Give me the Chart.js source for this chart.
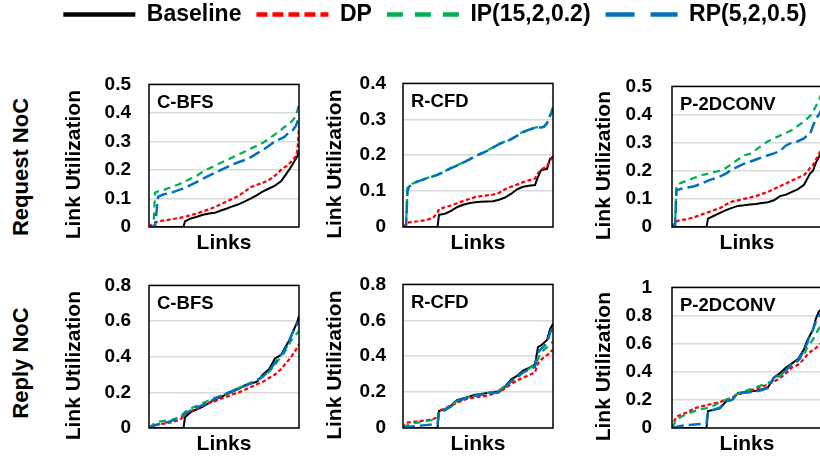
<!DOCTYPE html>
<html>
<head>
<meta charset="utf-8">
<script src="https://cdn.jsdelivr.net/npm/chart.js@4.4.1/dist/chart.umd.min.js"></script>
<style>
    html, body { margin: 0; padding: 0; background: #fff; overflow: hidden; }
    #wrap { position: relative; width: 820px; height: 461px; overflow: hidden; }
    canvas { position: absolute; }
    .rowLabel {
        position: absolute;
        font: bold 22px "Liberation Sans", Arial, sans-serif;
        color: #000;
        white-space: nowrap;
        transform: translate(-50%, -50%) rotate(-90deg);
    }
</style>
</head>
<body>
<div id="wrap">
    <canvas id="legend" width="780" height="120" style="left:45px; top:-12px;"></canvas>
    <div class="rowLabel" style="left:21px; top:167px;">Request NoC</div>
    <div class="rowLabel" style="left:21px; top:363px;">Reply NoC</div>
</div>
<script>
// --- данные (ось X = позиция линка в %, отсортировано) ---
const LINKS = [0, 2, 3, 4, 6, 10, 15, 20, 23, 24, 28, 32, 36, 40, 44, 48, 52, 56, 60, 64, 68, 72, 76, 80, 84, 88, 90, 92, 94, 96, 98, 99, 100];

const SERIES = ['Baseline', 'DP', 'IP(15,2,0.2)', 'RP(5,2,0.5)'];
const BENCHES = ['C-BFS', 'R-CFD', 'P-2DCONV'];
const REQ_YMAX = [0.5, 0.4, 0.5];
const REP_YMAX = [0.8, 0.8, 1];
const REQ_STEP = 0.1;
const REP_STEP = 0.2;

// Request NoC
const reqBfsBase = [0, 0, 0, 0, 0, 0, 0, 0, 0, 0.02, 0.03, 0.036, 0.043, 0.047, 0.05, 0.058, 0.065, 0.073, 0.08, 0.09, 0.1, 0.112, 0.125, 0.135, 0.145, 0.16, 0.175, 0.19, 0.205, 0.223, 0.24, 0.25, 0.27];
const reqBfsDp   = [0, 0.01, 0.013, 0.016, 0.019, 0.023, 0.027, 0.032, 0.035, 0.036, 0.042, 0.047, 0.055, 0.062, 0.07, 0.08, 0.09, 0.1, 0.11, 0.125, 0.14, 0.148, 0.155, 0.165, 0.18, 0.2, 0.208, 0.215, 0.225, 0.235, 0.25, 0.27, 0.35];
const reqBfsIp   = [0, 0, 0, 0.12, 0.125, 0.13, 0.14, 0.15, 0.157, 0.16, 0.17, 0.18, 0.195, 0.205, 0.215, 0.225, 0.235, 0.245, 0.255, 0.265, 0.275, 0.285, 0.295, 0.31, 0.325, 0.34, 0.35, 0.355, 0.365, 0.375, 0.39, 0.41, 0.435];
const reqBfsRp   = [0, 0, 0, 0, 0.106, 0.115, 0.12, 0.13, 0.135, 0.138, 0.148, 0.158, 0.17, 0.18, 0.19, 0.2, 0.21, 0.22, 0.228, 0.235, 0.245, 0.258, 0.27, 0.285, 0.3, 0.31, 0.315, 0.325, 0.335, 0.34, 0.355, 0.37, 0.39];

const reqCfdBase = [0, 0, 0, 0, 0, 0, 0, 0, 0, 0.034, 0.037, 0.045, 0.055, 0.062, 0.066, 0.069, 0.07, 0.071, 0.072, 0.076, 0.082, 0.092, 0.105, 0.112, 0.115, 0.117, 0.14, 0.158, 0.16, 0.162, 0.19, 0.193, 0.196];
const reqCfdDp   = [0, 0.008, 0.012, 0.013, 0.014, 0.016, 0.019, 0.025, 0.04, 0.05, 0.055, 0.06, 0.066, 0.072, 0.078, 0.083, 0.086, 0.088, 0.09, 0.095, 0.105, 0.112, 0.118, 0.125, 0.13, 0.135, 0.15, 0.16, 0.164, 0.17, 0.185, 0.19, 0.196];
const reqCfdIp   = [0, 0, 0.11, 0.113, 0.12, 0.128, 0.135, 0.142, 0.146, 0.148, 0.156, 0.165, 0.172, 0.18, 0.188, 0.198, 0.205, 0.212, 0.222, 0.232, 0.238, 0.245, 0.255, 0.265, 0.272, 0.277, 0.278, 0.278, 0.28, 0.29, 0.31, 0.32, 0.335];
const reqCfdRp   = [0, 0, 0.1, 0.112, 0.119, 0.127, 0.134, 0.141, 0.145, 0.147, 0.155, 0.164, 0.171, 0.179, 0.187, 0.197, 0.204, 0.212, 0.221, 0.231, 0.237, 0.244, 0.254, 0.264, 0.271, 0.276, 0.277, 0.277, 0.279, 0.289, 0.309, 0.32, 0.333];

const reqConvBase = [0, 0, 0, 0, 0, 0, 0, 0, 0, 0.03, 0.04, 0.05, 0.06, 0.068, 0.075, 0.077, 0.08, 0.082, 0.085, 0.088, 0.095, 0.11, 0.115, 0.125, 0.135, 0.15, 0.17, 0.19, 0.2, 0.23, 0.25, 0.26, 0.27];
const reqConvDp   = [0, 0.015, 0.02, 0.022, 0.025, 0.028, 0.035, 0.045, 0.05, 0.052, 0.06, 0.067, 0.08, 0.09, 0.095, 0.1, 0.105, 0.11, 0.118, 0.125, 0.135, 0.145, 0.155, 0.165, 0.175, 0.185, 0.195, 0.21, 0.22, 0.24, 0.26, 0.27, 0.285];
const reqConvIp   = [0, 0, 0.15, 0.152, 0.157, 0.165, 0.175, 0.185, 0.188, 0.19, 0.195, 0.2, 0.21, 0.225, 0.24, 0.255, 0.26, 0.275, 0.29, 0.305, 0.315, 0.325, 0.335, 0.345, 0.36, 0.375, 0.385, 0.395, 0.41, 0.43, 0.45, 0.465, 0.48];
const reqConvRp   = [0, 0, 0.13, 0.132, 0.136, 0.14, 0.145, 0.155, 0.162, 0.165, 0.172, 0.18, 0.19, 0.205, 0.215, 0.225, 0.232, 0.24, 0.248, 0.255, 0.262, 0.27, 0.29, 0.3, 0.305, 0.315, 0.325, 0.33, 0.36, 0.385, 0.4, 0.41, 0.42];

// Reply NoC
const repBfsBase = [0, 0, 0, 0, 0, 0, 0, 0, 0, 0.06, 0.09, 0.105, 0.12, 0.14, 0.16, 0.175, 0.19, 0.205, 0.22, 0.24, 0.25, 0.26, 0.3, 0.33, 0.39, 0.41, 0.44, 0.47, 0.5, 0.54, 0.58, 0.6, 0.63];
const repBfsDp   = [0, 0.01, 0.014, 0.017, 0.02, 0.025, 0.032, 0.045, 0.06, 0.075, 0.095, 0.11, 0.125, 0.14, 0.15, 0.165, 0.175, 0.19, 0.2, 0.215, 0.23, 0.245, 0.26, 0.28, 0.3, 0.33, 0.35, 0.37, 0.39, 0.415, 0.44, 0.455, 0.47];
const repBfsIp   = [0, 0.015, 0.022, 0.028, 0.035, 0.04, 0.045, 0.06, 0.08, 0.09, 0.11, 0.125, 0.14, 0.155, 0.17, 0.18, 0.195, 0.21, 0.225, 0.24, 0.255, 0.27, 0.29, 0.315, 0.355, 0.4, 0.42, 0.45, 0.48, 0.505, 0.525, 0.535, 0.545];
const repBfsRp   = [0, 0.008, 0.012, 0.015, 0.02, 0.028, 0.04, 0.055, 0.07, 0.08, 0.1, 0.115, 0.13, 0.145, 0.165, 0.18, 0.195, 0.21, 0.225, 0.235, 0.25, 0.265, 0.29, 0.32, 0.365, 0.41, 0.43, 0.46, 0.5, 0.54, 0.57, 0.585, 0.6];

const repCfdBase = [0, 0, 0, 0, 0, 0, 0, 0, 0, 0.095, 0.105, 0.125, 0.155, 0.165, 0.175, 0.185, 0.19, 0.195, 0.2, 0.205, 0.23, 0.27, 0.29, 0.32, 0.335, 0.355, 0.45, 0.46, 0.475, 0.49, 0.55, 0.565, 0.58];
const repCfdDp   = [0, 0.025, 0.03, 0.032, 0.034, 0.037, 0.042, 0.05, 0.06, 0.095, 0.11, 0.125, 0.14, 0.155, 0.165, 0.17, 0.175, 0.18, 0.19, 0.2, 0.22, 0.245, 0.265, 0.28, 0.295, 0.31, 0.36, 0.38, 0.395, 0.405, 0.42, 0.43, 0.435];
const repCfdIp   = [0, 0.01, 0.015, 0.02, 0.025, 0.03, 0.038, 0.045, 0.05, 0.095, 0.105, 0.125, 0.15, 0.162, 0.172, 0.18, 0.187, 0.195, 0.2, 0.21, 0.235, 0.26, 0.285, 0.31, 0.33, 0.355, 0.385, 0.42, 0.435, 0.45, 0.47, 0.475, 0.48];
const repCfdRp   = [0, 0.003, 0.005, 0.007, 0.009, 0.012, 0.016, 0.02, 0.022, 0.09, 0.1, 0.12, 0.15, 0.16, 0.17, 0.18, 0.185, 0.19, 0.195, 0.2, 0.225, 0.26, 0.28, 0.31, 0.325, 0.34, 0.42, 0.44, 0.455, 0.475, 0.53, 0.545, 0.56];

const repConvBase = [0, 0, 0, 0, 0, 0, 0, 0, 0, 0.12, 0.13, 0.14, 0.19, 0.2, 0.25, 0.255, 0.26, 0.265, 0.275, 0.29, 0.36, 0.39, 0.43, 0.46, 0.49, 0.56, 0.62, 0.66, 0.7, 0.78, 0.83, 0.84, 0.85];
const repConvDp   = [0, 0.06, 0.08, 0.085, 0.095, 0.11, 0.14, 0.155, 0.162, 0.165, 0.175, 0.185, 0.2, 0.215, 0.24, 0.25, 0.265, 0.28, 0.295, 0.31, 0.33, 0.355, 0.39, 0.43, 0.45, 0.49, 0.52, 0.54, 0.555, 0.57, 0.59, 0.6, 0.61];
const repConvIp   = [0, 0.04, 0.055, 0.065, 0.08, 0.1, 0.12, 0.135, 0.142, 0.145, 0.16, 0.185, 0.2, 0.22, 0.245, 0.26, 0.275, 0.29, 0.305, 0.32, 0.34, 0.37, 0.41, 0.46, 0.48, 0.52, 0.57, 0.6, 0.63, 0.67, 0.71, 0.72, 0.73];
const repConvRp   = [0, 0.005, 0.008, 0.01, 0.015, 0.02, 0.025, 0.03, 0.033, 0.12, 0.13, 0.145, 0.19, 0.2, 0.245, 0.25, 0.255, 0.26, 0.27, 0.285, 0.36, 0.38, 0.41, 0.45, 0.48, 0.55, 0.6, 0.66, 0.7, 0.76, 0.8, 0.81, 0.82];

// --- стили линий ---
const COLORS = ['#000000', '#ff0000', '#00b050', '#0070c0'];
const WIDTHS = [2, 2.25, 2.25, 2.5];
const DASHES = [[], [4, 2.5], [7, 5], [12, 5]];
const LEGEND_DASHES = [[], [11, 5], [16, 12], [29, 16]];
const FONT = '"Liberation Sans", Arial, sans-serif';

Chart.defaults.font.family = FONT;
Chart.defaults.color = '#000';

// Рамка, название бенчмарка и подпись оси Y
const panelDeco = {
    id: 'panelDeco',
    afterDatasetsDraw(chart, args, opts) {
        const { ctx, chartArea: a } = chart;
        ctx.save();
        ctx.strokeStyle = '#000';
        ctx.lineWidth = 1.5;
        ctx.strokeRect(a.left, a.top, a.right - a.left, a.bottom - a.top);

        ctx.fillStyle = '#000';
        ctx.font = 'bold 18.5px ' + FONT;
        ctx.textAlign = 'left';
        ctx.textBaseline = 'alphabetic';
        ctx.fillText(opts.name, a.left + 8, a.top + 24);

        ctx.translate(a.left - opts.titleGap, (a.top + a.bottom) / 2 + 9);
        ctx.rotate(-Math.PI / 2);
        ctx.font = 'bold 21px ' + FONT;
        ctx.textAlign = 'center';
        ctx.textBaseline = 'middle';
        ctx.fillText('Link Utilization', 0, 0);
        ctx.restore();
    }
};

const AXIS_W = 94, TOP_PAD = 18, RIGHT_PAD = 6, X_H = 33;
const PLOT_W = 150, PLOT_H = 154;
const COL_LEFT = [149, 403, 672];
const ROW_TOP = [73, 274];
const TITLE_GAP = [75, 68, 68];
const TICK_PAD = [18, 17, 20];

function makePanel(row, col, name, yMax, step, lists) {
    const wrap = document.getElementById('wrap');
    const cv = document.createElement('canvas');
    cv.width = AXIS_W + PLOT_W + RIGHT_PAD;
    cv.height = TOP_PAD + PLOT_H + X_H;
    cv.style.left = (COL_LEFT[col] - AXIS_W) + 'px';
    cv.style.top = (ROW_TOP[row] - TOP_PAD) + 'px';
    wrap.appendChild(cv);

    new Chart(cv, {
        type: 'line',
        data: {
            datasets: lists.map((vals, i) => ({
                label: SERIES[i],
                data: LINKS.map((x, j) => ({ x: x, y: vals[j] })),
                borderColor: COLORS[i],
                borderWidth: WIDTHS[i],
                borderDash: DASHES[i],
                pointRadius: 0,
                tension: 0,
                order: 4 - i
            }))
        },
        options: {
            responsive: false,
            animation: false,
            devicePixelRatio: 1,
            layout: { padding: { top: TOP_PAD, right: RIGHT_PAD, bottom: 0, left: 0 } },
            plugins: {
                legend: { display: false },
                tooltip: { enabled: false },
                panelDeco: { name: name, titleGap: TITLE_GAP[col] }
            },
            scales: {
                x: {
                    type: 'linear', min: 0, max: 100,
                    ticks: { display: false },
                    grid: { display: false },
                    border: { display: false },
                    title: { display: true, text: 'Links', color: '#000', font: { size: 21, weight: 'bold' }, padding: { top: 0, bottom: 4 } },
                    afterFit(s) { s.height = X_H; }
                },
                y: {
                    min: 0, max: yMax,
                    ticks: {
                        stepSize: step,
                        padding: TICK_PAD[col],
                        color: '#000',
                        font: { size: 19, weight: 'bold' },
                        callback: v => String(+v.toFixed(2))
                    },
                    grid: { color: '#d9d9d9', lineWidth: 1.5, drawTicks: false },
                    border: { display: false },
                    afterFit(s) { s.width = AXIS_W; }
                }
            }
        },
        plugins: [panelDeco]
    });
}

makePanel(0, 0, BENCHES[0], REQ_YMAX[0], REQ_STEP, [reqBfsBase, reqBfsDp, reqBfsIp, reqBfsRp]);
makePanel(0, 1, BENCHES[1], REQ_YMAX[1], REQ_STEP, [reqCfdBase, reqCfdDp, reqCfdIp, reqCfdRp]);
makePanel(0, 2, BENCHES[2], REQ_YMAX[2], REQ_STEP, [reqConvBase, reqConvDp, reqConvIp, reqConvRp]);
makePanel(1, 0, BENCHES[0], REP_YMAX[0], REP_STEP, [repBfsBase, repBfsDp, repBfsIp, repBfsRp]);
makePanel(1, 1, BENCHES[1], REP_YMAX[1], REP_STEP, [repCfdBase, repCfdDp, repCfdIp, repCfdRp]);
makePanel(1, 2, BENCHES[2], REP_YMAX[2], REP_STEP, [repConvBase, repConvDp, repConvIp, repConvRp]);

// Общая легенда сверху
new Chart(document.getElementById('legend'), {
    type: 'line',
    data: {
        datasets: SERIES.map((name, i) => ({
            label: name,
            data: [],
            borderColor: COLORS[i],
            borderWidth: 4.5,
            borderDash: LEGEND_DASHES[i]
        }))
    },
    options: {
        responsive: false,
        animation: false,
        devicePixelRatio: 1,
        scales: { x: { display: false }, y: { display: false } },
        plugins: {
            tooltip: { enabled: false },
            legend: {
                position: 'top',
                labels: {
                    usePointStyle: true,
                    pointStyle: 'line',
                    pointStyleWidth: 72,
                    padding: 15,
                    color: '#000',
                    font: { size: 23, weight: 'bold' },
                    generateLabels: chart => chart.data.datasets.map((ds, i) => ({
                        text: ds.label,
                        strokeStyle: ds.borderColor,
                        fillStyle: ds.borderColor,
                        lineWidth: ds.borderWidth,
                        lineDash: ds.borderDash,
                        pointStyle: 'line',
                        fontColor: '#000',
                        hidden: false,
                        datasetIndex: i
                    }))
                },
                onClick: null
            }
        }
    }
});
</script>
</body>
</html>
